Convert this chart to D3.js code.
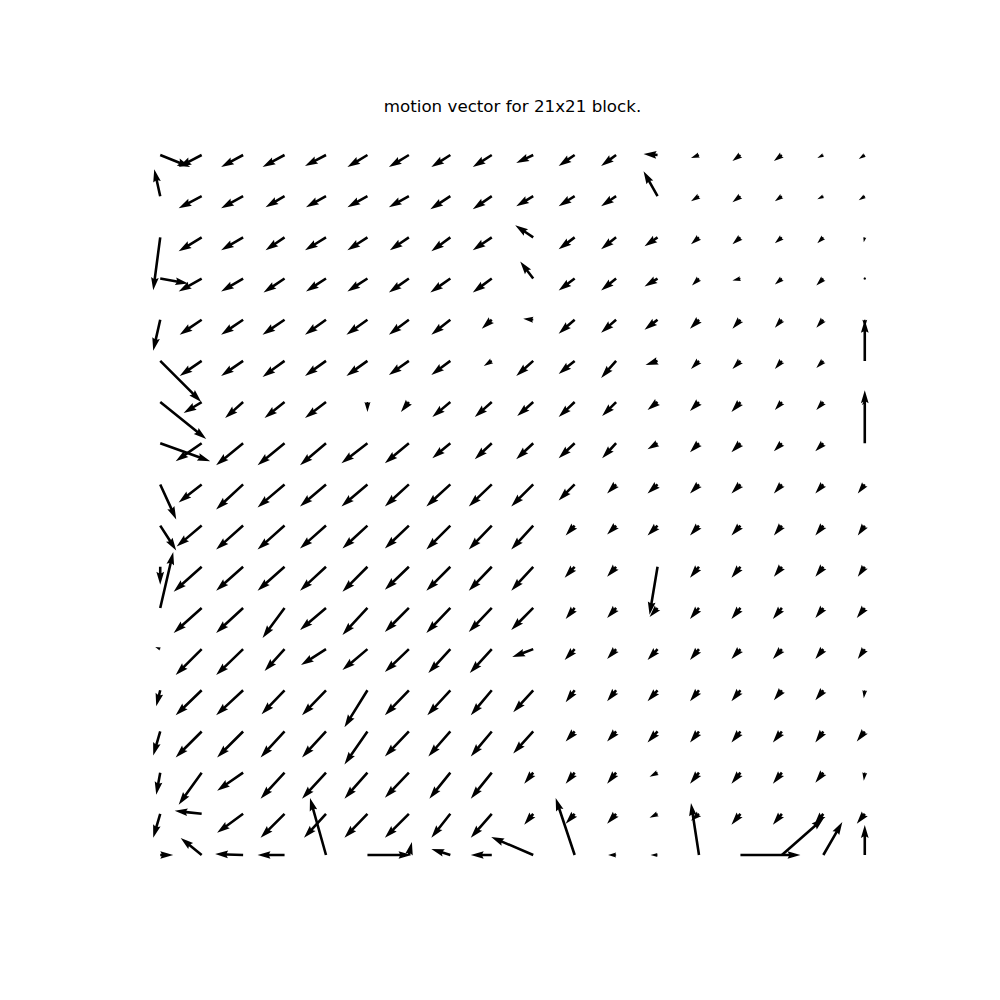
<!DOCTYPE html>
<html>
<head>
<meta charset="utf-8">
<script src="https://cdn.jsdelivr.net/npm/d3@7"></script>
<style>
  html, body { margin: 0; padding: 0; background: #fff; }
  svg { display: block; }
</style>
</head>
<body>
<div id="chart"></div>
<script>
// Block grid (column / row indices of the 18x18 blocks)
const cols = d3.range(18);
const rows = d3.range(18);
const title = "motion vector for 21x21 block.";

// Horizontal motion per block (x to the right), one list per row (top row first)
const dxRows = [
  [30,-23,-22,-22,-21,-20,-20,-19,-19,-17,-16,-15,-14,-8,-8,-8,-6,-6],
  [-6,-23,-22,-19,-20,-20,-20,-20,-19,-17,-16,-15,-14,-8,-8,-7,-6,-6],
  [-7,-23,-22,-19,-21,-20,-19,-19,-19,-18,-16,-15,-13,-8,-8,-7,-6,-1],
  [28,-23,-22,-21,-20,-20,-20,-20,-19,-13,-16,-15,-13,-7,-8,-7,-7,0],
  [-7,-22,-22,-22,-21,-21,-20,-19,-10,-10,-16,-15,-13,-9,-8,-7,-7,0],
  [41,-22,-22,-22,-21,-21,-20,-19,-8,-17,-16,-15,-12,-8,-8,-7,-7,0],
  [46,-18,-18,-20,-21,0,-8,-18,-17,-16,-16,-14,-10,-9,-9,-7,-7,-3],
  [50,-26,-27,-27,-26,-26,-24,-18,-17,-17,-16,-14,-10,-9,-9,-8,-8,0],
  [16,-23,-27,-27,-26,-26,-24,-24,-23,-22,-16,-9,-10,-9,-9,-8,-8,-7],
  [16,-25,-27,-27,-26,-25,-24,-24,-23,-22,-9,-9,-10,-9,-9,-8,-8,-7],
  [0,-28,-27,-27,-26,-25,-24,-24,-23,-22,-10,-9,-8,-9,-9,-8,-8,-7],
  [13,-28,-27,-22,-26,-25,-24,-24,-23,-22,-9,-9,-8,-9,-9,-9,-8,-8],
  [-5,-26,-27,-20,-25,-25,-24,-22,-22,-21,-10,-9,-10,-9,-9,-9,-8,-7],
  [-4,-26,-27,-23,-24,-23,-24,-23,-21,-20,-9,-9,-10,-9,-9,-8,-8,-1],
  [-7,-26,-26,-24,-24,-23,-24,-22,-21,-20,-9,-9,-10,-9,-9,-9,-8,-8],
  [-4,-23,-26,-24,-24,-23,-24,-21,-21,-9,-9,-9,-8,-9,-9,-9,-8,-1],
  [-7,-27,-26,-24,-22,-23,-24,-19,-21,-9,-9,-9,-8,-8,-9,-9,-9,-8],
  [13,-21,-28,-27,-16,44,3,-19,-21,-42,-19,-8,-7,-8,60,42,19,0]
];

// Vertical motion per block (y downward, image convention), one list per row
const dyRows = [
  [12,12,12,12,11,12,12,12,12,8,11,11,-1,3,6,6,3,4],
  [-27,12,12,11,11,11,11,13,13,10,10,10,-25,5,6,5,3,4],
  [53,14,13,13,13,13,13,14,13,-12,12,12,9,7,7,6,6,5],
  [5,13,13,14,13,13,14,14,14,-17,12,12,8,7,2,6,7,1],
  [31,15,15,15,15,15,15,15,9,-1,14,13,10,9,9,8,8,8],
  [41,15,15,16,15,15,14,14,5,15,13,17,4,8,8,8,7,-41],
  [37,11,16,16,16,10,10,15,15,14,15,14,8,9,10,8,8,3],
  [18,18,22,22,22,20,20,15,16,16,15,15,6,9,9,8,8,-53],
  [35,18,25,23,22,22,22,22,22,22,16,9,9,9,9,9,9,9],
  [25,21,24,24,23,23,23,24,24,24,10,9,10,10,10,10,10,10],
  [18,25,24,24,24,25,23,24,24,24,11,10,48,11,11,10,10,10],
  [-56,25,25,30,22,27,24,25,24,22,11,10,9,11,11,11,10,10],
  [-2,26,26,22,16,21,23,24,24,8,11,10,11,11,10,10,10,10],
  [16,25,25,24,25,37,25,25,25,22,12,11,11,11,11,10,10,8],
  [24,26,26,26,26,33,25,25,25,22,10,10,11,11,11,11,11,10],
  [22,32,18,26,26,26,25,26,26,11,11,11,4,11,11,11,10,8],
  [24,-3,19,24,24,24,24,24,24,11,10,10,4,7,11,11,11,10],
  [0,-17,-1,0,-57,0,-13,-6,0,-18,-57,0,0,-52,0,-37,-33,-30]
];

const W = 1000, H = 1000;
const axL = 125, axR = 900, axT = 120, axB = 890;
const pad = 0.05 * 17;

const x = d3.scaleLinear().domain([-pad, 17 + pad]).range([axL, axR]);
const y = d3.scaleLinear().domain([-pad, 17 + pad]).range([axT, axB]);
// motion units -> screen pixels
const vs = d3.scaleLinear().domain([0, 10]).range([0, 10]);

const svg = d3.select("#chart").append("svg")
  .attr("width", W).attr("height", H)
  .attr("viewBox", `0 0 ${W} ${H}`);

svg.append("rect").attr("width", W).attr("height", H).attr("fill", "#fff");

svg.append("text")
  .attr("x", (axL + axR) / 2)
  .attr("y", 112)
  .attr("text-anchor", "middle")
  .attr("font-family", "DejaVu Sans, sans-serif")
  .attr("font-size", 16.7)
  .attr("fill", "#000")
  .text(title);

const data = [];
rows.forEach(r => cols.forEach(c => {
  data.push({ r, c, u: dxRows[r][c], v: dyRows[r][c] });
}));

// matplotlib-like quiver arrow geometry (units of shaft width)
const shaftW = 2.58;
const headwidth = 3, headlength = 5, headaxislength = 4.5, minshaft = 1, minlength = 1;

function arrowPoints(d) {
  const px = vs(d.u), py = vs(d.v);
  const L = Math.hypot(px, py) / shaftW;
  const minsh = minshaft * headlength;
  let X, Y;
  if (L < minlength) {
    X = []; Y = [];
    for (let k = 0; k < 8; k++) {
      const th = k * Math.PI / 3;
      X.push(Math.cos(th) * minlength * 0.5);
      Y.push(Math.sin(th) * minlength * 0.5);
    }
  } else if (L < minsh) {
    const s = L / minsh;
    const x0 = [0, minsh - headaxislength, minsh - headlength, minsh];
    X = [0, 1, 2, 3, 2, 1, 0, 0].map(i => x0[i] * s);
    const y0 = [0.5, 0.5, 0.5 * headwidth, 0];
    Y = [0, 1, 2, 3, 2, 1, 0, 0].map((i, k) => (k >= 3 && k < 7 ? -1 : 1) * y0[i] * s);
  } else {
    const x1 = [0, L - headaxislength, L - headlength, L];
    X = [0, 1, 2, 3, 2, 1, 0, 0].map(i => x1[i]);
    const y1 = [0.5, 0.5, 0.5 * headwidth, 0];
    Y = [0, 1, 2, 3, 2, 1, 0, 0].map((i, k) => (k >= 3 && k < 7 ? -1 : 1) * y1[i]);
  }
  const ang = Math.atan2(py, px);
  const ca = Math.cos(ang), sa = Math.sin(ang);
  const ox = x(d.c), oy = y(d.r);
  return X.map((xx, k) => {
    const a = xx * shaftW, b = Y[k] * shaftW;
    return [ox + a * ca - b * sa, oy + a * sa + b * ca];
  });
}

svg.append("g")
  .selectAll("polygon")
  .data(data)
  .join("polygon")
  .attr("points", d => arrowPoints(d).map(p => p.join(",")).join(" "))
  .attr("fill", "#000")
  .attr("stroke", "none");
</script>
</body>
</html>
